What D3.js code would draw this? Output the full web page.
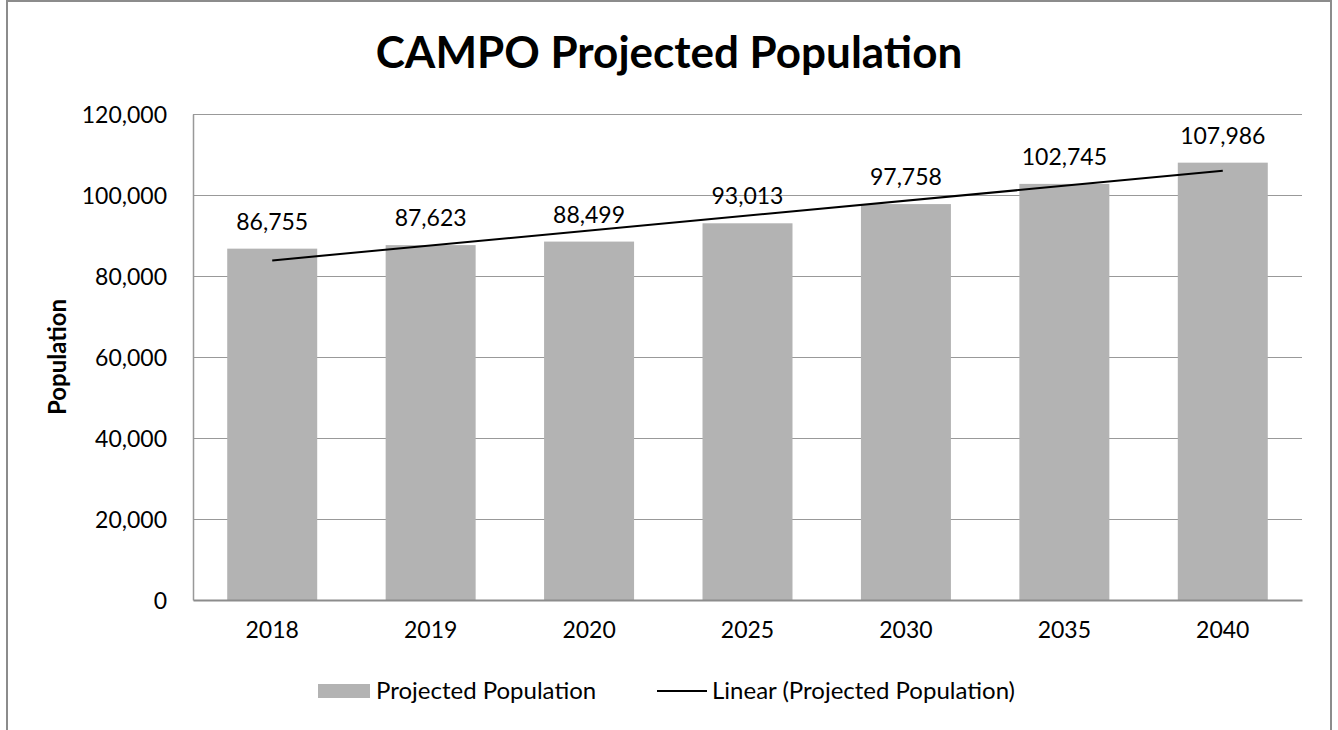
<!DOCTYPE html>
<html>
<head>
<meta charset="utf-8">
<script src="https://cdn.jsdelivr.net/npm/d3@7"></script>
<style>
    body { margin: 0; background: #fff; }
    svg text { font-family: "Lato", "Noto Sans", sans-serif; fill: #000; }
</style>
</head>
<body>
<div id="chart"></div>
<script>
// data
const years = ["2018", "2019", "2020", "2025", "2030", "2035", "2040"];
const population = [86755, 87623, 88499, 93013, 97758, 102745, 107986];
const yTicks = [0, 20000, 40000, 60000, 80000, 100000, 120000];

const W = 1338, H = 730;
const margin = { top: 114, right: 36, bottom: 130, left: 193 };
const plotW = W - margin.left - margin.right;
const plotH = H - margin.top - margin.bottom;

const svg = d3.select("#chart").append("svg")
    .attr("width", W)
    .attr("height", H);

// outer chart border (bottom runs off the picture)
svg.append("rect")
    .attr("x", 7)
    .attr("y", 1)
    .attr("width", 1324)
    .attr("height", 760)
    .attr("fill", "none")
    .attr("stroke", "#8c8c8c")
    .attr("stroke-width", 2);

svg.append("text")
    .attr("x", 669)
    .attr("y", 68)
    .attr("text-anchor", "middle")
    .style("font-size", "44px")
    .style("font-weight", "bold")
    .text("CAMPO Projected Population");

const chart = svg.append("g")
    .attr("transform", `translate(${margin.left}, ${margin.top})`);

const x = d3.scaleBand()
    .domain(years)
    .range([0, plotW])
    .paddingInner(0.432)
    .paddingOuter(0.216);

const y = d3.scaleLinear()
    .domain([0, 120000])
    .range([plotH, 0]);

// gridlines
chart.append("g")
    .selectAll("line")
    .data(yTicks.filter(d => d > 0))
    .enter()
    .append("line")
    .attr("x1", 0)
    .attr("x2", plotW)
    .attr("y1", d => Math.round(y(d)) + 0.5)
    .attr("y2", d => Math.round(y(d)) + 0.5)
    .attr("stroke", "#999")
    .attr("stroke-width", 1.2);

// y axis
let yAxis = chart.append("g")
    .call(d3.axisLeft(y).tickValues(yTicks).tickFormat(d3.format(",")).tickSize(0).tickPadding(26));
yAxis.select(".domain").attr("stroke", "#999").attr("stroke-width", 1.5);
yAxis.selectAll("text").style("font-size", "23px").attr("dy", "0.36em");

// bars
chart.selectAll(".bar")
    .data(population)
    .enter()
    .append("rect")
    .attr("class", "bar")
    .attr("x", (d, i) => x(years[i]))
    .attr("y", d => y(d))
    .attr("width", x.bandwidth())
    .attr("height", d => plotH - y(d))
    .attr("fill", "#b3b3b3");

// x axis
let xAxis = chart.append("g")
    .attr("transform", `translate(0, ${plotH})`)
    .call(d3.axisBottom(x).tickSize(0).tickPadding(22));
xAxis.select(".domain").attr("stroke", "#8c8c8c").attr("stroke-width", 2);
xAxis.selectAll("text").style("font-size", "23px");

// data labels
chart.selectAll(".label")
    .data(population)
    .enter()
    .append("text")
    .attr("class", "label")
    .attr("x", (d, i) => x(years[i]) + x.bandwidth() / 2)
    .attr("y", d => y(d) - 19)
    .attr("text-anchor", "middle")
    .style("font-size", "23px")
    .text(d => d3.format(",")(d));

// linear trendline (least squares over category index)
let n = population.length;
let xs = population.map((d, i) => i + 1);
let mx = d3.mean(xs), my = d3.mean(population);
let slope = d3.sum(xs, (v, i) => (v - mx) * (population[i] - my)) / d3.sum(xs, v => (v - mx) * (v - mx));
let intercept = my - slope * mx;

chart.append("line")
    .attr("x1", x(years[0]) + x.bandwidth() / 2)
    .attr("y1", y(intercept + slope * 1))
    .attr("x2", x(years[n - 1]) + x.bandwidth() / 2)
    .attr("y2", y(intercept + slope * n))
    .attr("stroke", "#000")
    .attr("stroke-width", 2);

// y axis title
svg.append("text")
    .attr("transform", "translate(66, 357) rotate(-90)")
    .attr("text-anchor", "middle")
    .style("font-size", "24px")
    .style("font-weight", "bold")
    .text("Population");

// legend
let legend = svg.append("g");
legend.append("rect")
    .attr("x", 318).attr("y", 684)
    .attr("width", 52).attr("height", 14)
    .attr("fill", "#b3b3b3");
legend.append("text")
    .attr("x", 376).attr("y", 699)
    .style("font-size", "24px")
    .text("Projected Population");
legend.append("line")
    .attr("x1", 657).attr("x2", 707)
    .attr("y1", 691).attr("y2", 691)
    .attr("stroke", "#000").attr("stroke-width", 2);
legend.append("text")
    .attr("x", 712).attr("y", 699)
    .style("font-size", "24px")
    .text("Linear (Projected Population)");
</script>
</body>
</html>
